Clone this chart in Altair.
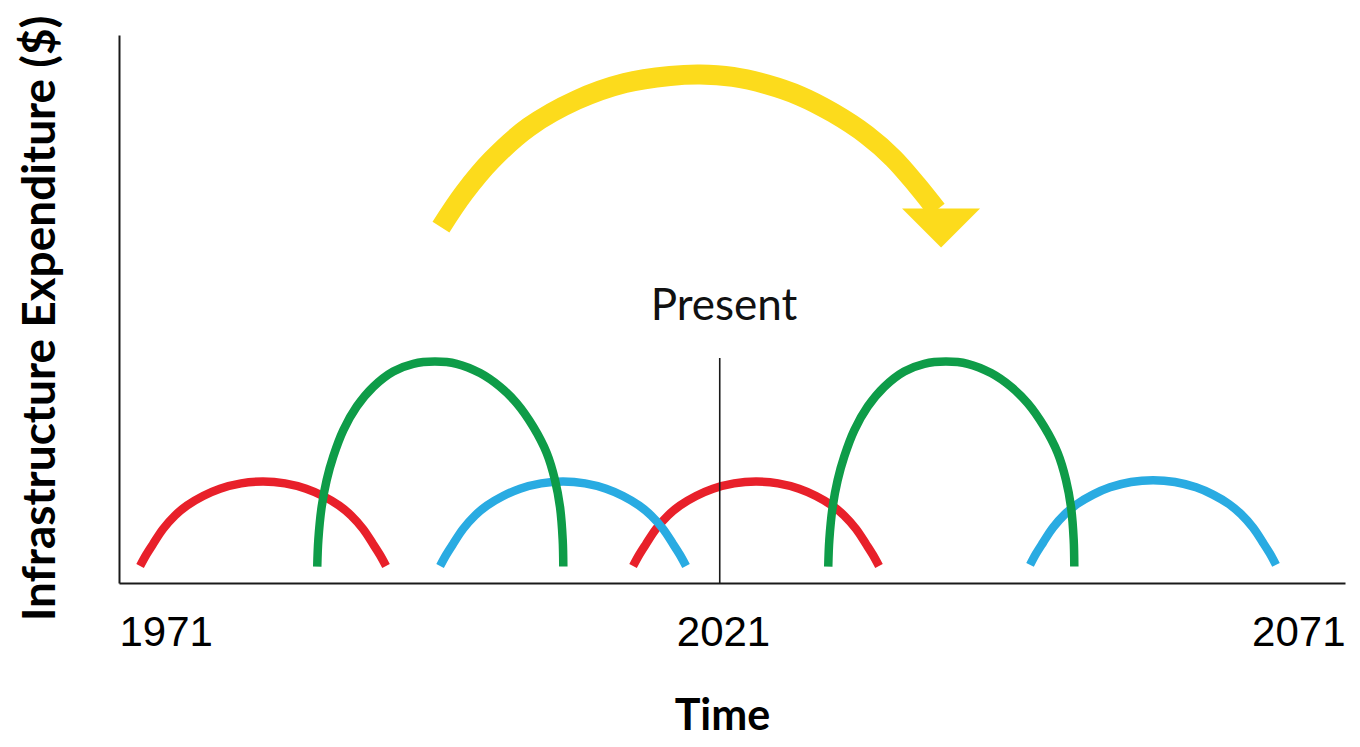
import altair as alt
import pandas as pd

# ---- axis setup ----
x_domain = [1971, 2071]
tick_years = [1971, 2021, 2071]
y_domain = [0, 100]

# ---- arcs (year, expenditure level) ----
red1_x = [1972.72, 1973.21, 1973.78, 1974.59, 1975.57, 1976.55, 1977.86, 1979.24, 1980.96, 1982.75,
          1984.54, 1986.26, 1987.64, 1988.95, 1989.93, 1990.91, 1991.72, 1992.29, 1992.78]
red1_y = [3.10, 5.11, 7.12, 9.85, 12.32, 14.14, 15.88, 17.21, 18.19, 18.52,
          18.19, 17.21, 15.88, 14.14, 12.32, 9.85, 7.12, 5.11, 3.10]

blue1_x = [1997.19, 1997.68, 1998.25, 1999.06, 2000.04, 2001.02, 2002.33, 2003.71, 2005.43, 2007.22,
           2009.01, 2010.73, 2012.11, 2013.42, 2014.40, 2015.38, 2016.19, 2016.76, 2017.25]
blue1_y = [3.10, 5.11, 7.12, 9.85, 12.32, 14.14, 15.88, 17.21, 18.19, 18.52,
           18.19, 17.21, 15.88, 14.14, 12.32, 9.85, 7.12, 5.11, 3.10]

red2_x = [2012.93, 2013.42, 2013.99, 2014.80, 2015.78, 2016.76, 2018.07, 2019.45, 2021.17, 2022.96,
          2024.75, 2026.47, 2027.85, 2029.16, 2030.14, 2031.12, 2031.93, 2032.50, 2032.99]
red2_y = [3.10, 5.11, 7.12, 9.85, 12.32, 14.14, 15.88, 17.21, 18.19, 18.52,
          18.19, 17.21, 15.88, 14.14, 12.32, 9.85, 7.12, 5.11, 3.10]

blue2_x = [2045.31, 2045.80, 2046.37, 2047.18, 2048.16, 2049.14, 2050.45, 2051.83, 2053.55, 2055.34,
           2057.13, 2058.85, 2060.23, 2061.54, 2062.52, 2063.50, 2064.31, 2064.88, 2065.37]
blue2_y = [3.30, 5.35, 7.37, 10.10, 12.57, 14.39, 16.13, 17.46, 18.44, 18.77,
           18.44, 17.46, 16.13, 14.39, 12.57, 10.10, 7.37, 5.35, 3.30]

green1_x = [1987.17, 1987.26, 1987.53, 1987.94, 1988.48, 1989.30, 1990.39, 1991.74, 1993.37, 1995.00, 1996.77,
            1998.54, 2000.45, 2002.08, 2003.44, 2004.79, 2005.89, 2006.56, 2006.97, 2007.19, 2007.24]
green1_y = [3.0, 7.9, 13.9, 18.8, 23.1, 27.9, 32.2, 35.8, 38.6, 40.0, 40.4,
            40.0, 38.3, 35.8, 32.8, 28.5, 23.7, 18.8, 13.9, 7.9, 3.0]

green2_x = [2028.85, 2028.94, 2029.21, 2029.62, 2030.16, 2030.98, 2032.07, 2033.42, 2035.05, 2036.68, 2038.45,
            2040.22, 2042.13, 2043.76, 2045.12, 2046.47, 2047.57, 2048.24, 2048.65, 2048.87, 2048.92]
green2_y = [3.0, 7.9, 13.9, 18.8, 23.1, 27.9, 32.2, 35.8, 38.6, 40.0, 40.4,
            40.0, 38.3, 35.8, 32.8, 28.5, 23.7, 18.8, 13.9, 7.9, 3.0]

# ---- yellow arrow ----
arrow_x = [1997.26, 1999.14, 2001.40, 2004.44, 2008.33, 2012.27, 2015.94, 2018.39,
           2021.08, 2023.83, 2026.55, 2029.26, 2031.99, 2034.16, 2036.07, 2037.70]
arrow_y = [64.96, 71.17, 77.19, 83.21, 88.14, 91.24, 92.52, 92.79,
           92.34, 90.97, 88.87, 85.77, 81.75, 77.50, 72.63, 68.07]
head_x = [2038.05]
head_y = [64.78]

# ---- present marker ----
present_x = [2020.0]
present_top = [41.06]
present_label = ["Present"]
present_label_x = [2020.35]
present_label_y = [48.0]

RED = "#E8202A"
GREEN = "#0E9C48"
BLUE = "#29ABE2"
YELLOW = "#FCDB1C"
INK = "#1a1a1a"


def arc_frame(name, xs, ys):
    return pd.DataFrame({"arc": name, "year": xs, "level": ys, "i": range(len(xs))})


arcs = {
    "red": [arc_frame("red1", red1_x, red1_y), arc_frame("red2", red2_x, red2_y)],
    "blue": [arc_frame("blue1", blue1_x, blue1_y), arc_frame("blue2", blue2_x, blue2_y)],
    "green": [arc_frame("green1", green1_x, green1_y), arc_frame("green2", green2_x, green2_y)],
}
colors = {"red": RED, "blue": BLUE, "green": GREEN}

xscale = alt.Scale(domain=x_domain, nice=False, zero=False)
yscale = alt.Scale(domain=y_domain, nice=False, zero=False)

x_axis = alt.Axis(
    values=tick_years, format="d", title="Time",
    titleFont="Lato", titleFontSize=43, titleFontWeight="bold", titleColor="black",
    titleBaseline="alphabetic", titleAlign="center", titleX=603, titleY=146,
    labelFont="Liberation Sans", labelFontSize=42, labelColor="black",
    labelBaseline="alphabetic", labelPadding=62, labelFlush=True, labelOverlap=False,
    labelOffset={"condition": {"test": "datum.value == 2021", "value": -9}, "value": 0},
    ticks=False, tickSize=0, grid=False, domainColor=INK, domainWidth=2,
)
y_axis = alt.Axis(
    title="Infrastructure Expenditure ($)",
    titleFont="Lato", titleFontSize=46, titleFontWeight="bold", titleColor="black",
    titleAngle=270, titleBaseline="alphabetic", titleAlign="center", titleX=-65, titleY=283,
    labels=False, ticks=False, tickSize=0, grid=False, domainColor=INK, domainWidth=2,
)


def X():
    return alt.X("year:Q", scale=xscale, axis=x_axis)


def Y():
    return alt.Y("level:Q", scale=yscale, axis=y_axis)


layers = []
for key in ["red", "blue", "green"]:
    df = pd.concat(arcs[key], ignore_index=True)
    layers.append(
        alt.Chart(df).mark_line(
            color=colors[key], strokeWidth=8.5, strokeCap="butt", interpolate="catmull-rom"
        ).encode(x=X(), y=Y(), detail="arc:N", order="i:Q")
    )

present_df = pd.DataFrame({"year": present_x, "level": [0.0], "top": present_top})
layers.append(
    alt.Chart(present_df).mark_rule(color=INK, strokeWidth=1.6).encode(
        x=X(), y=Y(), y2="top:Q",
    )
)
label_df = pd.DataFrame({"year": present_label_x, "level": present_label_y, "text": present_label})
layers.append(
    alt.Chart(label_df).mark_text(
        font="Lato", fontSize=44, align="center", baseline="alphabetic", color="#111111"
    ).encode(x=X(), y=Y(), text="text:N")
)

arrow_df = pd.DataFrame({"year": arrow_x, "level": arrow_y, "i": range(len(arrow_x))})
layers.append(
    alt.Chart(arrow_df).mark_line(
        color=YELLOW, strokeWidth=20, strokeCap="butt", interpolate="catmull-rom"
    ).encode(x=X(), y=Y(), order="i:Q")
)
head_df = pd.DataFrame({"year": head_x, "level": head_y})
layers.append(
    alt.Chart(head_df).mark_point(
        shape="M-1,-0.5L1,-0.5L0,0.5Z", filled=True, size=6084, color=YELLOW,
        opacity=1, strokeWidth=0,
    ).encode(x=X(), y=Y())
)

chart = alt.layer(*layers).properties(
    width=1226, height=548,
    padding={"left": 111, "top": 27, "right": 7, "bottom": 156},
    autosize=alt.AutoSizeParams(type="none"),
    background="white",
).configure_view(stroke=None)

chart.save("out.html", embed_options={"renderer": "svg", "actions": False})
